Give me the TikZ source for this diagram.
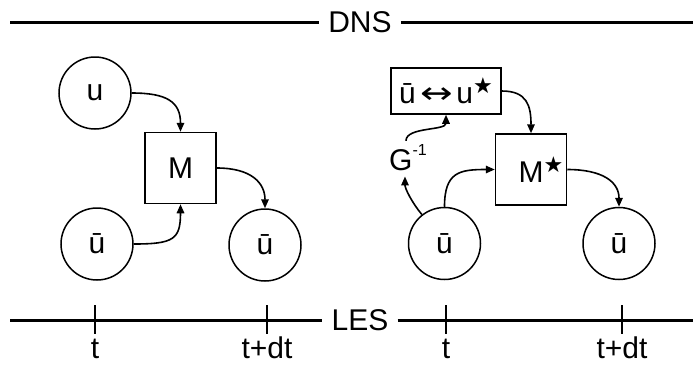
\documentclass[tikz,border=0pt]{standalone}
\usepackage{fontspec}
\usepackage{graphicx}
\setmainfont{Liberation Sans}
\newfontfamily\symfont{DejaVu Sans}
\usetikzlibrary{arrows.meta,calc}
\newcommand\starsym{\raisebox{10pt}{\fontsize{22}{22}\selectfont\symfont ★}}
\begin{document}
\begin{tikzpicture}[x=1pt,y=-1pt,
  font=\fontsize{30}{31}\selectfont,
  state/.style={circle,draw,line width=1.5pt,minimum size=72pt,inner sep=0pt},
  opbox/.style={rectangle,draw,line width=1.5pt,minimum width=71pt,minimum height=71pt,inner sep=0pt},
  conn/.style={line width=1.6pt,-{Triangle[length=9pt,width=7.5pt]}},
  axis/.style={line width=3pt},
  tickmark/.style={line width=2.6pt},
  lbl/.style={inner sep=0pt}]
\useasboundingbox (0,0) rectangle (693,365);

% DNS line
\node[lbl,inner xsep=9pt] (dns) at (360,22) {DNS};
\coordinate (dnsL) at (10,22);
\coordinate (dnsR) at (693,22);
\draw[axis] (dnsL) -- (dns.west);
\draw[axis] (dns.east) -- (dnsR);

% LES line
\node[lbl,inner xsep=9pt] (les) at (360,320) {LES};
\coordinate (lesL) at (10,320);
\coordinate (lesR) at (693,320);
\draw[axis] (lesL) -- (les.west);
\draw[axis] (les.east) -- (lesR);

% ticks and labels
\foreach \x/\n in {95/a,267/b,446/c,622/d}{
  \coordinate (tk\n top) at (\x,305);
  \coordinate (tk\n bot) at (\x,334);
  \draw[tickmark] (tk\n top) -- (tk\n bot);
}
\node[lbl,anchor=base] (ta) at (95,358) {t};
\node[lbl,anchor=base] (tb) at (267,358) {t+dt};
\node[lbl,anchor=base] (tc) at (446,358) {t};
\node[lbl,anchor=base] (td) at (622,358) {t+dt};

% left diagram
\node[state] (u) at (95,93) {u};
\node[opbox] (M) at (180.5,168) {M};
\node[state] (ub1) at (97,244) {ū};
\node[state] (ub2) at (265,245) {ū};

\draw[conn] (u.east) .. controls +(35,0) and +(0,-30) .. (M.north);
\draw[conn] (ub1.east) .. controls +(40,0) and +(0,35) .. (M.south);
\draw[conn] (M.east) .. controls +(35,0) and +(0,-25) .. (ub2.north);

% right diagram
\node[rectangle,draw,line width=1.5pt,minimum width=110pt,minimum height=46pt,inner sep=0pt] (box) at (446,91)
  {ū\hspace{5pt}{\symfont\scalebox{1.3}[1]{↔}}\hspace{3pt}u\starsym};
\node[opbox] (Ms) at (531,169.5) {M\rlap{\starsym}};
\node[state] (ub3) at (444.5,243.5) {ū};
\node[state] (ub4) at (619,243.5) {ū};
\node[lbl,anchor=base west] (G) at (389,170) {G\raisebox{15pt}{\fontsize{16}{16}\selectfont -1}};

\draw[conn] (box.east) .. controls +(25,0) and +(0,-28) .. (Ms.north);
\draw[conn] (ub3.north) .. controls +(0,-35) and +(-35,0) .. (Ms.west);
\draw[conn] (Ms.east) .. controls +(35,0) and +(0,-25) .. (ub4.north);
\draw[conn] (ub3.128) .. controls +(-10,-12) and +(0,12) .. ($(G.south)+(-3,6)$);
\draw[conn] ($(G.north)+(-2,-3)$) .. controls +(0,-14) and +(0,16) .. (box.south);
\end{tikzpicture}
\end{document}
